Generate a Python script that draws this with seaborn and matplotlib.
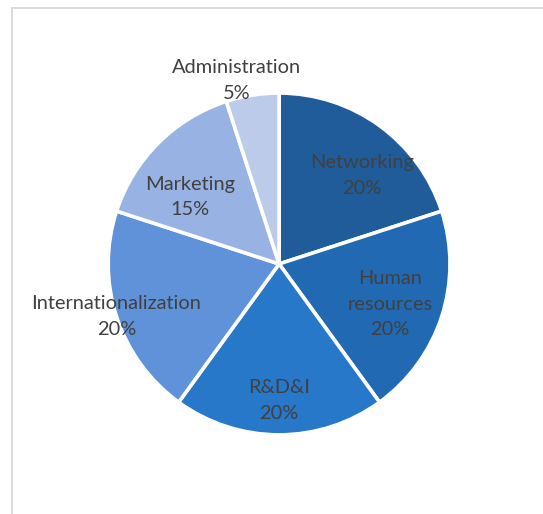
import numpy as np
import matplotlib
matplotlib.use("Agg")
import matplotlib.pyplot as plt
from matplotlib.lines import Line2D
import seaborn as sns

# Share of activity by area (percent)
categories = ["Networking", "Human resources", "R&D&I",
              "Internationalization", "Marketing", "Administration"]
label_text = ["Networking", "Human\nresources", "R&D&I",
              "Internationalization", "Marketing", "Administration"]
shares = [20, 20, 20, 20, 15, 5]
colors = ["#1F5C99", "#2269B3", "#2878CA", "#5F92D9", "#98B3E3", "#BCCBEA"]
# radial placement of each data label (fraction of radius)
label_dist = [0.71, 0.69, 0.80, 1.00, 0.65, 1.10]
label_angle_shift = [-7, -2, 0, 0, 8, 4]

sns.set_theme(style="white")
plt.rcParams["font.family"] = ["Lato", "DejaVu Sans"]

fig = plt.figure(figsize=(5.43, 5.14), dpi=100)
ax = fig.add_axes([0.199, 0.154, 0.630, 0.665])

wedges, _ = ax.pie(shares, colors=colors, startangle=90, counterclock=False,
                   radius=1.0,
                   wedgeprops=dict(edgecolor="white", linewidth=2.6))
ax.set_xlim(-1, 1)
ax.set_ylim(-1, 1)
ax.set_aspect("equal")
ax.axis("off")

total = sum(shares)
for w, txt, val, d, sh in zip(wedges, label_text, shares, label_dist, label_angle_shift):
    mid = np.deg2rad((w.theta1 + w.theta2) / 2 + sh)
    x, y = d * np.cos(mid), d * np.sin(mid)
    ax.text(x, y, f"{txt}\n{val / total * 100:.0f}%", ha="center", va="center",
            fontsize=14.4, color="#404040", linespacing=1.62, clip_on=False)

# chart-area frame
frame_c = "#D9D9D9"
fig.add_artist(Line2D([11.5 / 543, 11.5 / 543], [0, 1 - 7.5 / 514],
                      transform=fig.transFigure, color=frame_c, lw=1.3))
fig.add_artist(Line2D([11.5 / 543, 1], [1 - 7.5 / 514, 1 - 7.5 / 514],
                      transform=fig.transFigure, color=frame_c, lw=1.3))

fig.savefig("out.png", dpi=100, facecolor="white")
